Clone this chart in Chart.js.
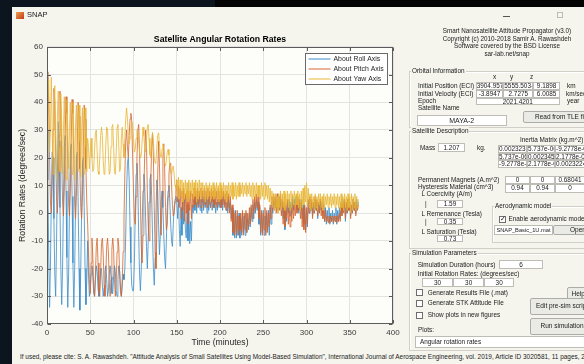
<!DOCTYPE html>
<html lang="en">
<head>
<meta charset="utf-8">
<title>SNAP</title>
<script src="https://cdn.jsdelivr.net/npm/chart.js@4.4.1/dist/chart.umd.min.js"></script>
<style>
  html, body { margin: 0; padding: 0; }
  body {
    width: 584px; height: 364px; overflow: hidden; position: relative;
    background: #f5f5ee; color: #1a1a1a;
    font-family: "Liberation Sans", Arial, sans-serif;
  }
  #rates { position: absolute; left: 0; top: 0; }
  .abs { position: absolute; }
  .lbl { position: absolute; font-size: 6.4px; line-height: 8px; height: 8px; white-space: nowrap; }
  .hdr { position: absolute; left: 430px; width: 154px; text-align: center; font-size: 6.3px; line-height: 8px; white-space: nowrap; }
  .fld {
    position: absolute; box-sizing: border-box; background: #fff; border: 1px solid #bdbdb6;
    font-size: 6.4px; white-space: nowrap; overflow: hidden; text-align: center;
  }
  .btn {
    position: absolute; box-sizing: border-box; background: #ebebe6; border: 1px solid #acacaa; border-radius: 2px;
    font-size: 6.5px; white-space: nowrap; overflow: hidden; text-align: center;
  }
  .grp { position: absolute; box-sizing: border-box; border: 1px solid #d0d0c8; box-shadow: inset 1px 1px 0 #fff; }
  .gt { position: absolute; font-size: 6.4px; line-height: 8px; background: #f5f5ee; padding: 0 1px; white-space: nowrap; }
  .cb { position: absolute; box-sizing: border-box; width: 7px; height: 7px; border: 1px solid #6e6e6e; background: #fff; }
</style>
</head>
<body>
<canvas id="rates" width="410" height="352"></canvas>

<!-- window chrome -->
<div class="abs" style="left:0;top:0;width:12px;height:364px;background:#0c141d"></div>
<div class="abs" style="left:0;top:0;width:215px;height:7px;background:#0c141d"></div>
<div class="abs" style="left:215px;top:0;width:369px;height:7px;background:#040404"></div>
<div class="abs" style="left:16px;top:12px;width:8px;height:7px;background:linear-gradient(135deg,#f0a050,#c03818)"></div>
<div class="lbl" style="left:27px;top:11px;font-size:7.5px;">SNAP</div>
<div class="abs" style="left:503px;top:16px;width:7px;height:1px;background:#555"></div>
<div class="abs" style="left:557px;top:12px;width:6px;height:6px;box-sizing:border-box;border:1px solid #bbb"></div>

<!-- header -->
<div class="hdr" style="top:27px">Smart Nanosatellite Attitude Propagator (v3.0)</div>
<div class="hdr" style="top:34.5px">Copyright (c) 2010-2018 Samir A. Rawashdeh</div>
<div class="hdr" style="top:42px">Software covered by the BSD License</div>
<div class="hdr" style="top:50px">sar-lab.net/snap</div>

<!-- orbital information -->
<div class="grp" style="left:409px;top:71px;width:200px;height:57px"></div>
<div class="gt" style="left:411px;top:67px">Orbital Information</div>
<div class="lbl" style="left:493px;top:72.5px">x</div>
<div class="lbl" style="left:510px;top:72.5px">y</div>
<div class="lbl" style="left:530px;top:72.5px">z</div>
<div class="lbl" style="left:418px;top:82px">Initial Position (ECI)</div>
<div class="lbl" style="left:418px;top:90px">Initial Velocity (ECI)</div>
<div class="lbl" style="left:418px;top:97px">Epoch</div>
<div class="lbl" style="left:418px;top:104px">Satellite Name</div>
<div class="fld" style="left:475.7px;top:82px;width:27.6px;height:8.2px">3904.957</div>
<div class="fld" style="left:503.3px;top:82px;width:30px;height:8.2px">5555.503-</div>
<div class="fld" style="left:533.3px;top:82px;width:26.7px;height:8.2px">9.1898</div>
<div class="fld" style="left:475.7px;top:90px;width:27.6px;height:7.6px">-3.8947</div>
<div class="fld" style="left:503.3px;top:90px;width:30px;height:7.6px">2.7275</div>
<div class="fld" style="left:533.3px;top:90px;width:26.7px;height:7.6px">6.0085</div>
<div class="fld" style="left:475.7px;top:97.5px;width:84.3px;height:7.6px">2021.4201</div>
<div class="lbl" style="left:567px;top:82px">km</div>
<div class="lbl" style="left:566px;top:90px">km/sec</div>
<div class="lbl" style="left:567px;top:97px">year</div>
<div class="fld" style="left:416.7px;top:115px;width:90px;height:11px;font-size:7px">MAYA-2</div>
<div class="btn" style="left:523px;top:111px;width:78px;height:12px">Read from TLE file</div>

<!-- satellite description -->
<div class="grp" style="left:409px;top:131px;width:200px;height:118px"></div>
<div class="gt" style="left:411px;top:127px">Satellite Description</div>
<div class="lbl" style="left:520px;top:136px">Inertia Matrix (kg.m^2)</div>
<div class="lbl" style="left:420px;top:144px">Mass</div>
<div class="fld" style="left:438px;top:143px;width:27px;height:9px">1.207</div>
<div class="lbl" style="left:477px;top:144px">kg.</div>
<div class="fld" style="left:498px;top:145px;width:29px;height:7.7px">0.0023235</div>
<div class="fld" style="left:527px;top:145px;width:28px;height:7.7px">5.737e-06</div>
<div class="fld" style="left:555px;top:145px;width:30px;height:7.7px">-9.2778e-06</div>
<div class="fld" style="left:498px;top:152.7px;width:29px;height:7.7px">5.737e-06</div>
<div class="fld" style="left:527px;top:152.7px;width:28px;height:7.7px">0.0023451</div>
<div class="fld" style="left:555px;top:152.7px;width:30px;height:7.7px">2.1778e-06</div>
<div class="fld" style="left:498px;top:160.4px;width:29px;height:7.7px">-9.2778e-06</div>
<div class="fld" style="left:527px;top:160.4px;width:28px;height:7.7px">2.1778e-06</div>
<div class="fld" style="left:555px;top:160.4px;width:30px;height:7.7px">0.0023224</div>
<div class="lbl" style="left:418px;top:176px">Permanent Magnets (A.m^2)</div>
<div class="lbl" style="left:418px;top:183px">Hysteresis Material (cm^3)</div>
<div class="fld" style="left:505px;top:175.7px;width:25px;height:8.6px">0</div>
<div class="fld" style="left:530px;top:175.7px;width:25px;height:8.6px">0</div>
<div class="fld" style="left:555px;top:175.7px;width:30px;height:8.6px">0.68041</div>
<div class="fld" style="left:505px;top:184.3px;width:25px;height:8.4px">0.94</div>
<div class="fld" style="left:530px;top:184.3px;width:25px;height:8.4px">0.94</div>
<div class="fld" style="left:555px;top:184.3px;width:30px;height:8.4px">0</div>
<div class="lbl" style="left:421.5px;top:189.5px">L Coercivity (A/m)</div>
<div class="lbl" style="left:425px;top:200px">|</div>
<div class="fld" style="left:436.7px;top:200px;width:26.6px;height:7.7px">1.59</div>
<div class="lbl" style="left:421.5px;top:210.3px">L Remenance (Tesla)</div>
<div class="lbl" style="left:425px;top:218px">|</div>
<div class="fld" style="left:436.7px;top:218px;width:26.6px;height:7.2px">0.35</div>
<div class="lbl" style="left:421.5px;top:227.7px">L Saturation (Tesla)</div>
<div class="fld" style="left:436.7px;top:235px;width:26.6px;height:7.3px">0.73</div>
<div class="grp" style="left:492px;top:206px;width:120px;height:37px"></div>
<div class="gt" style="left:494px;top:202px">Aerodynamic model</div>
<div class="cb" style="left:499px;top:216px"></div>
<div class="lbl" style="left:499.5px;top:215px;font-size:7px">&#10003;</div>
<div class="lbl" style="left:508.5px;top:215px">Enable aerodynamic model</div>
<div class="fld" style="left:494px;top:225px;width:59px;height:10px;font-size:5.7px">SNAP_Basic_1U.mat</div>
<div class="btn" style="left:553px;top:225px;width:50px;height:10px">Open</div>

<!-- simulation parameters -->
<div class="grp" style="left:409px;top:253px;width:200px;height:98px"></div>
<div class="gt" style="left:411px;top:249px">Simulation Parameters</div>
<div class="lbl" style="left:417.7px;top:261px">Simulation Duration (hours)</div>
<div class="fld" style="left:499px;top:260px;width:44.3px;height:9.3px">6</div>
<div class="lbl" style="left:417.7px;top:269.5px">Initial Rotation Rates: (degrees/sec)</div>
<div class="fld" style="left:421.7px;top:277.7px;width:31.6px;height:9px">30</div>
<div class="fld" style="left:453.3px;top:277.7px;width:30.7px;height:9px">30</div>
<div class="fld" style="left:484px;top:277.7px;width:30.3px;height:9px">30</div>
<div class="cb" style="left:416px;top:289px"></div>
<div class="lbl" style="left:427.7px;top:288.5px">Generate Results File (.mat)</div>
<div class="cb" style="left:416px;top:300px"></div>
<div class="lbl" style="left:427.7px;top:299.3px">Generate STK Attitude File</div>
<div class="cb" style="left:416px;top:311.5px"></div>
<div class="lbl" style="left:427.7px;top:311px">Show plots in new figures</div>
<div class="btn" style="left:566.7px;top:286.7px;width:23px;height:13.3px">Help</div>
<div class="btn" style="left:530px;top:298.3px;width:64px;height:16.7px">Edit pre-sim script</div>
<div class="btn" style="left:530px;top:318.3px;width:64px;height:16.7px">Run simulation</div>
<div class="lbl" style="left:418px;top:326px">Plots:</div>
<div class="fld" style="left:415px;top:336px;width:185px;height:11.7px;text-align:left;padding-left:4px">Angular rotation rates</div>

<div class="lbl" style="left:20px;top:353px;font-size:6.45px">If used, please cite: S. A. Rawashdeh. "Attitude Analysis of Small Satellites Using Model-Based Simulation", International Journal of Aerospace Engineering, vol. 2019, Article ID 3020581, 11 pages, 2019.</div>

<script>
  // vertically centre the text of fields and buttons
  document.querySelectorAll('.fld, .btn').forEach(el => {
    el.style.lineHeight = (el.getBoundingClientRect().height - 2) + 'px';
  });

  // sampling step of the simulation output, minutes
  const timeStep = 1;

  const seriesNames = ['About Roll Axis', 'About Pitch Axis', 'About Yaw Axis'];
  const seriesColors = ['#3a8dcc', '#d4642e', '#e9b634'];

  const xTickValues = [0, 50, 100, 150, 200, 250, 300, 350, 400];
  const yTickValues = [-40, -30, -20, -10, 0, 10, 20, 30, 40, 50, 60];

  // angular rates (deg/s), one value per minute, t = 0..360
  const rollRate = [
    30, 12, -15, -34, -18, 5, 22, 20, -2, -22,
    -30, -12, 14, 33, 26, 2, -20, -33, -20, 4,
    24, 28, 8, -16, -34, -22, 2, 22, 25, 6,
    -18, -34, -20, 2, 20, 22, 4, -20, -35, -20,
    0, 18, 20, 2, -20, -33, -24, -10, -22, -30,
    -28, -22, -19, -23, -29, -30, -24, -19, -21, -27,
    -30, -26, -20, -20, -26, -30, -27, -21, -19, -24,
    -30, -28, -22, -19, -23, -29, -29, -23, -19, -21,
    -28, -30, -24, -19, -21, -27, -30, -26, -22, -24,
    -20, -8, 8, 18, 20, 12, -5, -18, -26, -28,
    -28, -18, 0, 14, 18, 10, -8, -22, -28, -20,
    -4, 8, 14, 10, -2, -12, -20, -10, 4, 12,
    14, 6, -8, -20, -26, -16, 0, 12, 8, -4,
    -15, -8, 4, 8, 2, -8, -16, -20, -10, 2,
    8, 10, 4, -4, -10, -12, -4, 2, 5, 6,
    4, -2, 5, -6, -12, 2, -8, 4, -4, 5,
    -6, -9, 3, -10, 2, -11, -3, -10, 3, 0,
    5, 1, 6, 0, 5, 2, 6, 1, 5, 0,
    6, 1, 5, 2, 6, 0, 5, 1, 6, 2,
    5, 1, 6, 2, 5, 0, 4, 1, 5, 2,
    6, 2, 5, 1, 6, 3, 5, 1, 4, 0,
    5, 1, 4, -2, 2, -8, 0, -9, 1, -9,
    -1, -8, 0, -9, -2, -8, 0, -7, -1, -8,
    0, -7, -2, -6, 0, -5, 2, -3, 3, -2,
    4, 0, 5, 1, 4, -4, 2, -8, 0, -7,
    1, -8, -1, -7, 0, -6, 1, -8, 2, -4,
    4, 0, 5, 1, 6, 2, 5, 1, 6, 2,
    5, 0, 4, -2, 3, -6, 2, -3, 4, 0,
    5, -1, 4, 0, 6, 1, 5, 2, 6, 1,
    5, 0, 4, 1, 5, -2, 3, -4, 2, -6,
    1, -5, 4, 0, 5, 1, 4, -1, 3, 0,
    5, 1, 4, -2, 3, 0, 5, 1, 4, 0,
    3, -3, 2, -4, 1, -3, 2, -4, 0, -3,
    1, -4, 0, -3, 2, -4, 1, -3, 2, -2,
    4, 0, 5, 1, 4, -3, 3, 0, 5, 1,
    4, -1, 3, 0, 5, 1, 4, 0, 5, 2, 4
  ];

  const pitchRate = [
    36, 51, 40, 20, 4, 0, 10, 30, 45, 40,
    22, 6, 0, 8, 28, 44, 38, 20, 4, -1,
    8, 28, 42, 36, 18, 3, -1, 8, 26, 41,
    36, 18, 3, -2, 6, 24, 40, 35, 16, 2,
    -2, 6, 24, 39, 34, 16, 4, -4, -14, -24,
    -29, -18, -9, -16, -27, -30, -22, -12, -9, -18,
    -28, -30, -21, -11, -9, -15, -26, -30, -22, -12,
    -9, -14, -25, -30, -24, -13, -9, -13, -24, -30,
    -25, -14, -9, -12, -22, -29, -30, -24, -14, -2,
    14, 26, 30, 24, 20, 28, 34, 36, 33, 20,
    8, -2, -4, 6, 20, 30, 32, 22, 4, -12,
    -18, -8, 8, 22, 30, 24, 8, -4, -10, -2,
    12, 24, 29, 20, 2, -14, -20, -6, 14, 26,
    18, 2, -8, 6, 20, 25, 16, 2, -6, -4,
    6, 14, 18, 18, 10, 3, -1, 0, 4, 8,
    12, 4, 10, 2, 9, -2, 8, 1, 9, -3,
    7, 0, 8, -4, 6, 1, 8, -2, 7, 2,
    9, 3, 8, 2, 9, 3, 8, 2, 9, 4,
    8, 2, 9, 3, 8, 2, 9, 3, 8, 2,
    9, 4, 8, 2, 9, 3, 8, 2, 9, 3,
    8, 2, 9, 3, 8, 2, 7, 1, 8, 2,
    7, 0, 6, -3, 3, -7, 1, -8, 0, -7,
    1, -8, -1, -6, 0, -7, 1, -8, 0, -6,
    1, -7, 0, -5, 2, -4, 3, -2, 5, 0,
    6, 1, 7, 2, 6, -2, 3, -7, 1, -8,
    0, -6, 2, -8, 1, -7, 0, -5, 3, -2,
    6, 1, 7, 2, 6, 0, 7, 2, 6, 1,
    7, -1, 5, -4, 4, -5, 3, -2, 5, -4,
    2, -5, 3, -3, 4, -2, 3, -1, 5, 0,
    6, 1, 5, -2, 4, -5, 2, -6, 3, -7,
    2, -4, 5, 0, 6, 1, 5, -2, 4, 0,
    6, 1, 5, -1, 4, 0, 5, -1, 3, -2,
    2, -3, 1, -3, -1, -3.5, -1, -3.5, -1, -3,
    -1, -3.5, -1, -3, -1, -3.5, -1, -3, 0, -3,
    3, -1, 4, 0, 5, -2, 4, 0, 5, 1,
    4, -2, 3, 0, 5, 1, 4, -1, 3, 1, 3
  ];

  const yawRate = [
    30, 46, 48, 22, 30, 49, 30, 14, 36, 46,
    26, 12, 34, 44, 24, 15, 43, 32, 14, 30,
    42, 22, 12, 41, 30, 16, 30, 40, 20, 14,
    40, 28, 12, 32, 39, 18, 15, 39, 26, 13,
    30, 38, 18, 14, 38, 24, 15, 27, 24, 16,
    22, 27, 20, 15, 16, 23, 29, 30, 22, 15,
    14, 20, 28, 31, 28, 19, 14, 16, 25, 31,
    30, 21, 14, 15, 24, 31, 32, 24, 15, 14,
    22, 31, 32, 24, 15, 16, 27, 31, 25, 20,
    27, 34, 38, 34, 28, 25, 27, 31, 33, 32,
    27, 22, 23, 27, 30, 30, 26, 22, 20, 21,
    26, 31, 28, 23, 22, 26, 31, 32, 27, 21,
    20, 25, 29, 26, 20, 18, 19, 24, 28, 29,
    25, 21, 20, 23, 25, 22, 18, 17, 19, 22,
    23, 21, 17, 15, 14, 16, 17, 14, 10, 9,
    12, 6, 13, 5, 12, 6, 12, 4, 11, 5,
    12, 6, 11, 4, 12, 5, 11, 6, 12, 5,
    11, 6, 12, 4, 11, 5, 12, 6, 11, 5,
    11, 6, 10, 4, 11, 5, 10, 6, 11, 4,
    10, 6, 11, 5, 10, 6, 11, 5, 10, 4,
    11, 5, 10, 6, 11, 5, 10, 4, 10, 6,
    11, 5, 10, 6, 11, 5, 10, 6, 11, 5,
    10, 6, 11, 6, 10, 7, 11, 6, 10, 7,
    11, 6, 10, 7, 11, 6, 10, 5, 11, 6,
    10, 5, 11, 6, 10, 6, 10, 5, 11, 6,
    10, 5, 11, 6, 10, 5, 10, 4, 9, 3,
    8, 2, 7, 1, 7, 2, 6, 0, 7, 2,
    8, 1, 7, 2, 8, 1, 7, 3, 8, 2,
    7, 1, 8, 2, 7, 3, 8, 2, 7, 3,
    8, 2, 7, 1, 8, 2, 9, 3, 10, 4,
    11, 3, 9, 2, 7, 1, 7, 2, 6, 1,
    7, 2, 6, 1, 7, 3, 7, 2, 6, 1,
    7, 2, 6, 3, 7, 2, 6, 3, 7, 2,
    6, 3, 7, 2, 6, 3, 7, 2, 6, 1,
    7, 2, 6, 1, 7, 2, 6, 1, 7, 2,
    6, 0, 7, 1, 6, 2, 7, 1, 6, 2, 5
  ];

  const toPoints = arr => arr.map((v, i) => ({ x: i * timeStep, y: v }));

  const fontFamily = '"Liberation Sans", Arial, sans-serif';
  const axisColor = '#3a3a3a';

  // matlab style: axes background, full box, inward ticks, legend inside
  const matlabAxes = {
    id: 'matlabAxes',
    beforeDraw(chart) {
      const { ctx, chartArea: a } = chart;
      ctx.save();
      ctx.fillStyle = '#fdfdf9';
      ctx.fillRect(a.left, a.top, a.right - a.left, a.bottom - a.top);
      ctx.restore();
    },
    afterDatasetsDraw(chart) {
      const { ctx, chartArea: a, scales: { x, y } } = chart;
      const l = Math.round(a.left) + 0.5, r = Math.round(a.right) - 0.5;
      const t = Math.round(a.top) + 0.5, b = Math.round(a.bottom) - 0.5;
      ctx.save();
      ctx.strokeStyle = '#5c5c5c';
      ctx.lineWidth = 1;
      ctx.strokeRect(l, t, r - l, b - t);
      const len = 3.5;
      ctx.beginPath();
      xTickValues.forEach(v => {
        const px = Math.round(x.getPixelForValue(v)) + 0.5;
        ctx.moveTo(px, b); ctx.lineTo(px, b - len);
        ctx.moveTo(px, t); ctx.lineTo(px, t + len);
      });
      yTickValues.forEach(v => {
        const py = Math.round(y.getPixelForValue(v)) + 0.5;
        ctx.moveTo(l, py); ctx.lineTo(l + len, py);
        ctx.moveTo(r, py); ctx.lineTo(r - len, py);
      });
      ctx.stroke();

      // legend box
      const boxW = 82, boxH = 31;
      const bx = Math.round(r - 5.5 - boxW) + 0.5, by = t + 6;
      ctx.fillStyle = '#ffffff';
      ctx.fillRect(bx, by, boxW, boxH);
      ctx.strokeStyle = '#6a6a6a';
      ctx.strokeRect(bx, by, boxW, boxH);
      ctx.font = '6.9px ' + fontFamily;
      ctx.textBaseline = 'middle';
      ctx.fillStyle = '#262626';
      chart.data.datasets.forEach((ds, i) => {
        const ry = by + 5.5 + i * 10;
        ctx.strokeStyle = ds.borderColor;
        ctx.lineWidth = 1;
        ctx.beginPath();
        ctx.moveTo(bx + 3, ry);
        ctx.lineTo(bx + 25, ry);
        ctx.stroke();
        ctx.fillText(ds.label, bx + 28, ry + 0.5);
      });
      ctx.restore();
    }
  };

  new Chart(document.getElementById('rates'), {
    type: 'line',
    data: {
      datasets: [
        { label: seriesNames[0], data: toPoints(rollRate), borderColor: seriesColors[0], order: 3 },
        { label: seriesNames[1], data: toPoints(pitchRate), borderColor: seriesColors[1], order: 2 },
        { label: seriesNames[2], data: toPoints(yawRate), borderColor: seriesColors[2], order: 1 }
      ]
    },
    options: {
      responsive: false,
      animation: false,
      layout: { padding: { left: 12, right: 17, top: 0, bottom: 0 } },
      elements: {
        point: { radius: 0 },
        line: { borderWidth: 0.8, tension: 0 }
      },
      plugins: {
        legend: { display: false },
        tooltip: { enabled: false },
        title: {
          display: true,
          text: 'Satellite Angular Rotation Rates',
          fullSize: false,
          color: '#000',
          font: { family: fontFamily, size: 8.7, weight: 'bold' },
          padding: { top: 34.8, bottom: 1.6 }
        }
      },
      scales: {
        x: {
          type: 'linear',
          min: 0,
          max: 400,
          afterBuildTicks: s => { s.ticks = xTickValues.map(v => ({ value: v })); },
          afterFit: s => { s.height = 28; },
          ticks: { color: axisColor, font: { family: fontFamily, size: 8 }, padding: 4, maxRotation: 0, autoSkip: false },
          grid: { color: '#e3e3e1', drawTicks: false },
          border: { display: false },
          title: {
            display: true, text: 'Time (minutes)', color: '#262626',
            font: { family: fontFamily, size: 8.6 }, padding: { top: 0, bottom: 4 }
          }
        },
        y: {
          min: -40,
          max: 60,
          afterBuildTicks: s => { s.ticks = yTickValues.map(v => ({ value: v })); },
          afterFit: s => { s.width = 35; },
          ticks: { color: axisColor, font: { family: fontFamily, size: 8 }, padding: 4, autoSkip: false },
          grid: { color: '#e3e3e1', drawTicks: false },
          border: { display: false },
          title: {
            display: true, text: 'Rotation Rates (degrees/sec)', color: '#262626',
            font: { family: fontFamily, size: 8.7 }, padding: { top: 5, bottom: 0 }
          }
        }
      }
    },
    plugins: [matlabAxes]
  });
</script>
</body>
</html>
